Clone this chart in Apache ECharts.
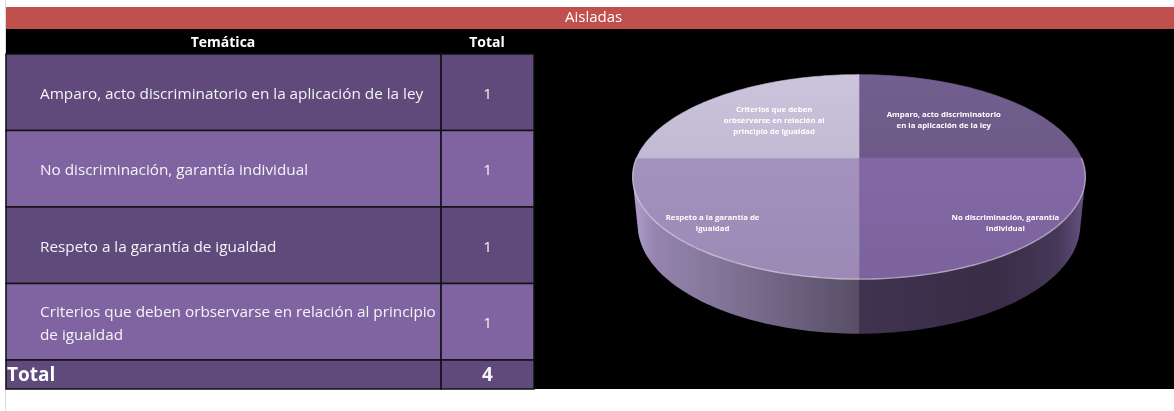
<!DOCTYPE html>
<html>
<head>
<meta charset="utf-8">
<script src="https://cdn.jsdelivr.net/npm/echarts@6/dist/echarts.min.js"></script>
<style>
  html, body { margin: 0; padding: 0; background: #ffffff; }
  #chart { width: 1174px; height: 411px; }
</style>
</head>
<body>
<div id="chart"></div>
<script>
// ---- data ----
const title = 'Aisladas';
const headers = ['Temática', 'Total'];
const themes = [
  'Amparo, acto discriminatorio en la aplicación de la ley',
  'No discriminación, garantía individual',
  'Respeto a la garantía de igualdad',
  'Criterios que deben orbservarse en relación al principio de igualdad'
];
const counts = [1, 1, 1, 1];
const totalLabel = 'Total';

// ---- styles ----
const rowColors = ['#5f4a7b', '#8064a2'];
const sliceColors = ['#705c8b', '#7f65a0', '#9f8db9', '#c6bed7'];
const FONT = '"Open Sans", "Noto Sans", sans-serif';
const ROW_FONT = '15.3px ' + FONT;
const PIE_LABEL_FONT = 'bold 7.8px ' + FONT;
const COL_SPLIT = 0.824;           // share of the table width taken by the "Temática" column

const total = counts.reduce((s, v) => s + v, 0);

// word wrapping without leading spaces on continuation lines
const measureCtx = document.createElement('canvas').getContext('2d');
function wrapText(text, font, maxWidth) {
  measureCtx.font = font;
  const lines = [];
  let line = '';
  text.split(' ').forEach(w => {
    const test = line ? line + ' ' + w : w;
    if (line && measureCtx.measureText(test).width > maxWidth) { lines.push(line); line = w; }
    else line = test;
  });
  if (line) lines.push(line);
  return lines.join('\n');
}

// ---- 3D pie geometry (perspective view of a tilted disc) ----
const PIE = { cx: 859, cy: 158, F: 1080, R: 0.206, T: 0.05, sin: 0.444, cos: Math.sqrt(1 - 0.444 * 0.444) };
// theta: clockwise from the far point; r: fraction of radius; t: depth below the top face
function proj(theta, r, t) {
  const X = PIE.R * r * Math.sin(theta), Z = PIE.R * r * Math.cos(theta);
  const depth = 1 + Z * PIE.cos + t * PIE.sin;
  const up = Z * PIE.sin - t * PIE.cos;
  return [PIE.cx + PIE.F * X / depth, PIE.cy - PIE.F * up / depth];
}
function arc(a, b, r, t) {
  const n = Math.max(2, Math.ceil((b - a) / (Math.PI / 120)));
  const pts = [];
  for (let k = 0; k <= n; k++) pts.push(proj(a + (b - a) * k / n, r, t));
  return pts;
}
const sideVis0 = Math.acos(-PIE.R / PIE.cos);
const sideVis1 = 2 * Math.PI - sideVis0;
const pieLeft = PIE.cx - PIE.F * PIE.R * 1.02, pieRight = PIE.cx + PIE.F * PIE.R * 1.02;

// slice angles from the values
const starts = [];
counts.reduce((acc, v, i) => { starts[i] = acc; return acc + v / total * 2 * Math.PI; }, 0);

function shade(hex, f) {
  const n = parseInt(hex.slice(1), 16);
  const c = [(n >> 16) & 255, (n >> 8) & 255, n & 255].map(v => Math.max(0, Math.min(255, Math.round(v * f))));
  return 'rgb(' + c.join(',') + ')';
}
const sideProfile = [[0, 1.12], [0.05, 0.94], [0.22, 0.8], [0.5, 0.55], [0.5, 0.5], [0.8, 0.44], [0.94, 0.55], [1, 0.82]];

const chart = echarts.init(document.getElementById('chart'), null, { renderer: 'canvas' });

function tableRow(params, api, isTotal) {
  const idx = api.value(1);
  const yc = api.coord([0, idx])[1];
  const h = api.size([0, 1])[1];
  const x0 = api.coord([0, idx])[0];
  const xs = api.coord([COL_SPLIT, idx])[0];
  const x1 = api.coord([1, idx])[0];
  const fill = isTotal ? rowColors[0] : rowColors[idx % 2];
  const count = api.value(2);
  return {
    type: 'group',
    children: [
      { type: 'rect', shape: { x: x0, y: yc - h / 2, width: xs - x0, height: h },
        style: { fill: fill, stroke: '#111', lineWidth: 1.5 } },
      { type: 'rect', shape: { x: xs, y: yc - h / 2, width: x1 - xs, height: h },
        style: { fill: fill, stroke: '#111', lineWidth: 1.5 } },
      { type: 'text', z2: 10,
        style: isTotal
          ? { x: x0 + 1, y: yc + 1, text: totalLabel, fill: '#ffffff', font: 'bold 19px ' + FONT,
              align: 'left', verticalAlign: 'middle' }
          : { x: x0 + 34, y: yc + 2, text: wrapText(themes[idx], ROW_FONT, xs - x0 - 33), fill: '#f4f4f4',
              font: ROW_FONT, align: 'left', verticalAlign: 'middle', lineHeight: 23 } },
      { type: 'text', z2: 10,
        style: { x: (xs + x1) / 2, y: yc + (isTotal ? 1 : 2), text: String(count), fill: '#f4f4f4',
                 font: isTotal ? 'bold 19px ' + FONT : ROW_FONT, align: 'center', verticalAlign: 'middle' } }
    ]
  };
}

const option = {
  backgroundColor: '#ffffff',
  animation: false,
  title: {
    text: title, left: 565, top: 10, padding: 0,
    textStyle: { color: '#ffffff', fontSize: 15, fontWeight: 'normal', fontFamily: FONT }
  },
  graphic: [
    { type: 'rect', z: -10, shape: { x: 5, y: 0, width: 1, height: 411 }, style: { fill: '#d9dce8' } },
    { type: 'rect', z: -10, shape: { x: 6, y: 7, width: 1168, height: 22 }, style: { fill: '#c0504d' } },
    { type: 'rect', z: -10, shape: { x: 6, y: 29, width: 1168, height: 360 }, style: { fill: '#000000' } },
    { type: 'text', z: 5, style: { x: 223, y: 43, text: headers[0], fill: '#ffffff', font: 'bold 14px ' + FONT,
        align: 'center', verticalAlign: 'middle' } },
    { type: 'text', z: 5, style: { x: 487, y: 43, text: headers[1], fill: '#ffffff', font: 'bold 14px ' + FONT,
        align: 'center', verticalAlign: 'middle' } }
  ],
  grid: [
    { left: 6, top: 54, width: 528, height: 306 },
    { left: 6, top: 360, width: 528, height: 29 }
  ],
  xAxis: [
    { gridIndex: 0, type: 'value', min: 0, max: 1, show: false },
    { gridIndex: 1, type: 'value', min: 0, max: 1, show: false }
  ],
  yAxis: [
    { gridIndex: 0, type: 'category', data: themes, inverse: true, show: false },
    { gridIndex: 1, type: 'category', data: [totalLabel], inverse: true, show: false }
  ],
  series: [
    {
      type: 'custom', name: 'tabla', xAxisIndex: 0, yAxisIndex: 0,
      data: themes.map((t, i) => [0, i, counts[i]]),
      renderItem: (params, api) => tableRow(params, api, false)
    },
    {
      type: 'custom', name: 'total', xAxisIndex: 1, yAxisIndex: 1,
      data: [[0, 0, total]],
      renderItem: (params, api) => tableRow(params, api, true)
    },
    {
      type: 'custom', name: title, coordinateSystem: 'none',
      data: counts.map((v, i) => ({ name: themes[i], value: [v] })),
      renderItem: function (params, api) {
        const i = params.dataIndex;
        const a = starts[i];
        const b = a + api.value(0) / total * 2 * Math.PI;
        const base = sliceColors[i];
        const children = [];
        // top face
        const top = [proj(0, 0, 0)].concat(arc(a, b, 1, 0));
        children.push({ type: 'polygon', z2: 5, shape: { points: top },
          style: { fill: new echarts.graphic.LinearGradient(0, 0, 0, 1, [
            { offset: 0, color: shade(base, 1.03) }, { offset: 1, color: shade(base, 0.98) }]),
            stroke: base, lineWidth: 0.6 } });
        // visible outer wall
        const lo = Math.max(a, sideVis0), hi = Math.min(b, sideVis1);
        if (hi > lo) {
          const side = arc(lo, hi, 1, 0).concat(arc(lo, hi, 1, PIE.T).reverse());
          children.push({ type: 'polygon', z2: 1, shape: { points: side },
            style: { fill: new echarts.graphic.LinearGradient(pieLeft, 0, pieRight, 0,
              sideProfile.map(p => ({ offset: p[0], color: shade(base, p[1]) })), true) } });
        }
        // light rim on the front edge
        const rlo = Math.max(a, Math.PI / 2), rhi = Math.min(b, 1.5 * Math.PI);
        if (rhi > rlo) {
          children.push({ type: 'polyline', z2: 6, shape: { points: arc(rlo, rhi, 1, 0) },
            style: { fill: null, stroke: 'rgba(255,255,255,0.45)', lineWidth: 1.4 } });
        }
        // label
        const mid = (a + b) / 2;
        const lr = 0.705 - 0.125 * Math.cos(mid) / Math.SQRT1_2;
        const p = proj(mid, lr, 0);
        children.push({ type: 'text', z2: 10, style: {
          x: p[0], y: p[1], text: wrapText(themes[i], PIE_LABEL_FONT, 121), fill: '#ffffff',
          font: PIE_LABEL_FONT, align: 'center', verticalAlign: 'middle', lineHeight: 11 } });
        return { type: 'group', children: children };
      }
    }
  ]
};

chart.setOption(option);
</script>
</body>
</html>
